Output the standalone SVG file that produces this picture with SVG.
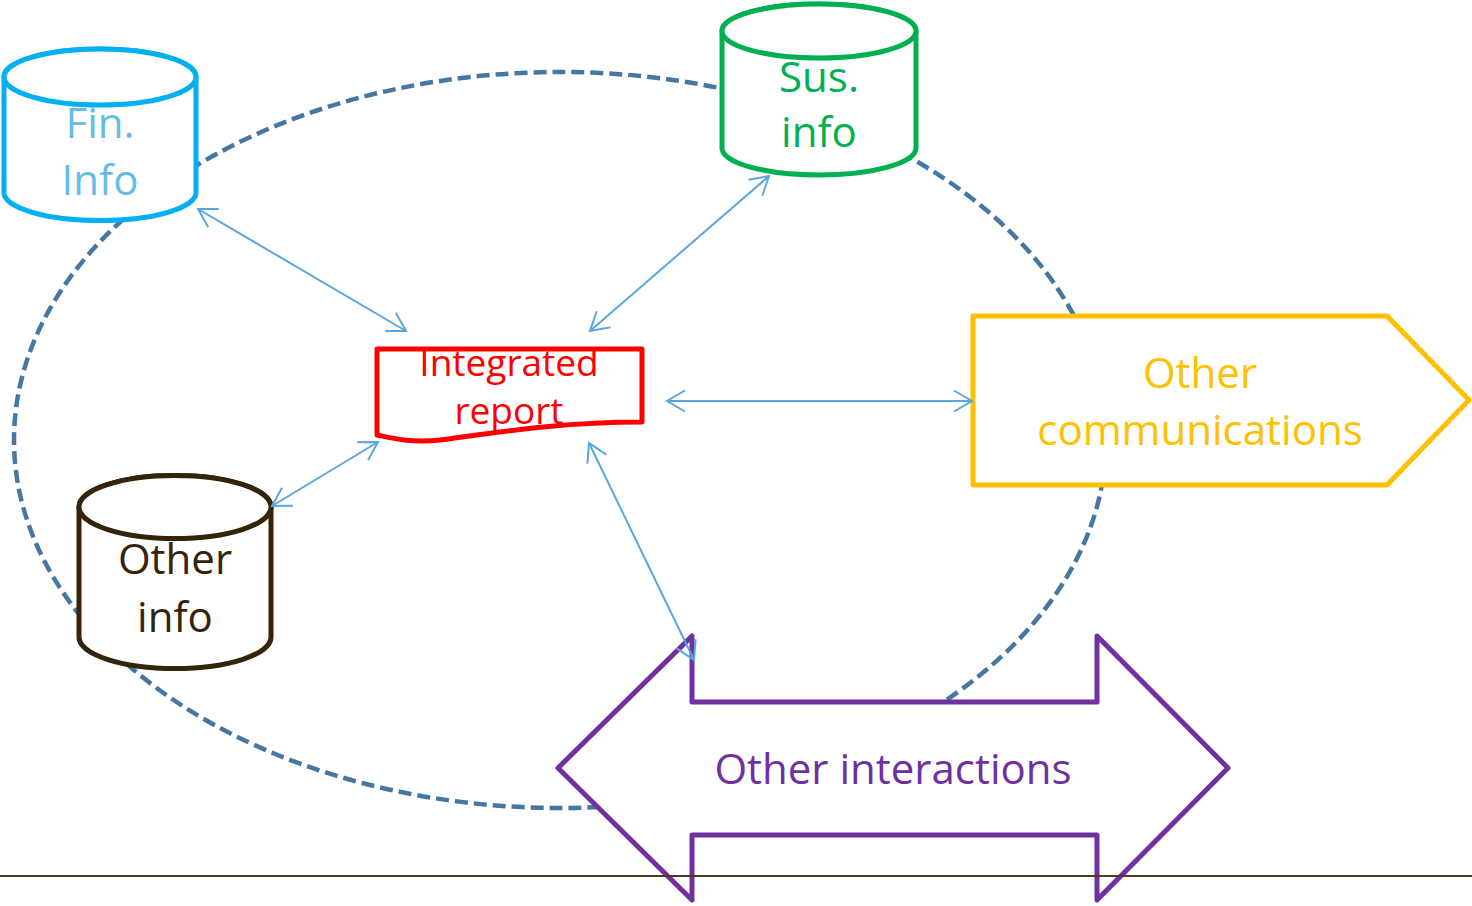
<svg xmlns="http://www.w3.org/2000/svg" width="1472" height="906" viewBox="0 0 1472 906">
<style>
  .lbl { font-family: "Open Sans", "Liberation Sans", sans-serif; font-size: 42px; text-anchor: middle; }
  .node { fill: #ffffff; stroke-width: 5; stroke-linejoin: round; }
  .conn { fill: none; stroke: #5BA6DE; stroke-width: 2; marker-start: url(#ah); marker-end: url(#ah); }
</style>
<defs>
  <marker id="ah" viewBox="-21 -13 23 26" refX="0" refY="0" markerWidth="23" markerHeight="26" markerUnits="userSpaceOnUse" orient="auto-start-reverse">
    <path d="M-18,-10.5 L0,0 L-18,10.5" fill="none" stroke="#5BA6DE" stroke-width="2"/>
  </marker>
</defs>
<rect x="0" y="0" width="1472" height="906" fill="#ffffff"/>
<g id="cycle">
  <ellipse cx="560" cy="440" rx="546" ry="368" fill="none" stroke="#4677A3" stroke-width="4.5" stroke-dasharray="13 6"/>
</g>
<g id="fin-info">
  <path class="node" stroke="#00B0F0" d="M4,77 A96,28 0 0 1 196,77 L196,192.5 A96,28 0 0 1 4,192.5 Z"/>
  <ellipse class="node" stroke="#00B0F0" cx="100" cy="77" rx="96" ry="28"/>
  <text class="lbl" fill="#66BDE3" x="100" y="138">Fin.</text>
  <text class="lbl" fill="#66BDE3" x="100" y="195">Info</text>
</g>
<g id="sus-info">
  <path class="node" stroke="#00B050" d="M722,31 A97,27 0 0 1 916,31 L916,148 A97,27 0 0 1 722,148 Z"/>
  <ellipse class="node" stroke="#00B050" cx="819" cy="31" rx="97" ry="27"/>
  <text class="lbl" fill="#00B050" x="819" y="92">Sus.</text>
  <text class="lbl" fill="#00B050" x="819" y="147">info</text>
</g>
<g id="other-info">
  <path class="node" stroke="#33240A" d="M79,507 A96,31.5 0 0 1 271,507 L271,637 A96,31.5 0 0 1 79,637 Z"/>
  <ellipse class="node" stroke="#33240A" cx="175" cy="507" rx="96" ry="31.5"/>
  <text class="lbl" fill="#33240A" x="175" y="574">Other</text>
  <text class="lbl" fill="#33240A" x="175" y="632">info</text>
</g>
<g id="integrated-report">
  <path class="node" stroke="#FF0000" d="M377,349 L642,349 L642,422 C560,422 500,432 440,440 C410,443 392,438 377,435 Z"/>
  <text class="lbl" fill="#FF0000" style="font-size:37px" x="509" y="376">Integrated</text>
  <text class="lbl" fill="#FF0000" style="font-size:37px" x="509" y="424">report</text>
</g>
<g id="other-communications">
  <path class="node" stroke="#FFC000" d="M973,316 L1387,316 L1469,400 L1387,485 L973,485 Z"/>
  <text class="lbl" fill="#FFC000" x="1200" y="388">Other</text>
  <text class="lbl" fill="#FFC000" x="1200" y="445">communications</text>
</g>
<g id="other-interactions">
  <path class="node" stroke="#7030A0" d="M558,768 L692,636 L692,702 L1097,702 L1097,636 L1228,768 L1097,900 L1097,835 L692,835 L692,900 Z"/>
  <text class="lbl" fill="#7030A0" x="893" y="784">Other interactions</text>
</g>
<g id="connectors">
  <line class="conn" x1="198" y1="209" x2="406" y2="331"/>
  <line class="conn" x1="769" y1="176" x2="590" y2="331"/>
  <line class="conn" x1="667" y1="401" x2="972" y2="401"/>
  <line class="conn" x1="272" y1="506" x2="378" y2="442"/>
  <line class="conn" x1="589" y1="443" x2="694" y2="660"/>
</g>
<g id="footer">
  <line x1="0" y1="876" x2="1472" y2="876" stroke="#4E3B22" stroke-width="2"/>
</g>
</svg>
